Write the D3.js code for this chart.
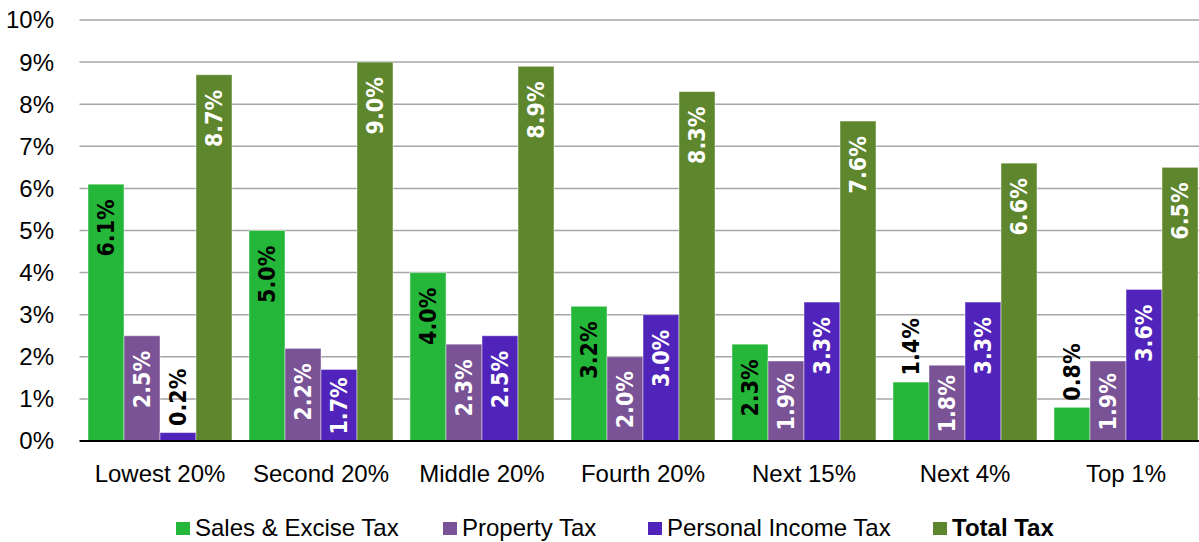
<!DOCTYPE html>
<html>
<head>
<meta charset="utf-8">
<script src="https://cdn.jsdelivr.net/npm/d3@7"></script>
<style>
  body { margin: 0; background: #fff; }
  svg { display: block; }
</style>
</head>
<body>
<div id="chart"></div>
<script>
// data
var categories = ["Lowest 20%", "Second 20%", "Middle 20%", "Fourth 20%", "Next 15%", "Next 4%", "Top 1%"];
var seriesNames = ["Sales & Excise Tax", "Property Tax", "Personal Income Tax", "Total Tax"];
var salesExcise = [6.1, 5.0, 4.0, 3.2, 2.3, 1.4, 0.8];
var propertyTax = [2.5, 2.2, 2.3, 2.0, 1.9, 1.8, 1.9];
var incomeTax = [0.2, 1.7, 2.5, 3.0, 3.3, 3.3, 3.6];
var totalTax = [8.7, 9.0, 8.9, 8.3, 7.6, 6.6, 6.5];
var yTicks = [0, 1, 2, 3, 4, 5, 6, 7, 8, 9, 10];

var seriesValues = [salesExcise, propertyTax, incomeTax, totalTax];
var colors = ["#24B739", "#7A5296", "#5023BA", "#5E862C"];
var labelColors = ["#000", "#fff", "#fff", "#fff"];

var W = 1199, H = 542;
var plotLeft = 79.5, plotRight = 1206.5, plotTop = 20, plotBottom = 441;

var svg = d3.select("#chart").append("svg")
    .attr("width", W)
    .attr("height", H);

var y = d3.scaleLinear().domain([0, 10]).range([plotBottom, plotTop]);

var x0 = d3.scaleBand()
    .domain(categories)
    .range([plotLeft, plotRight])
    .paddingInner(0)
    .paddingOuter(0);

var x1 = d3.scaleBand()
    .domain(d3.range(seriesNames.length))
    .range([8.5, x0.bandwidth() - 8.5])
    .padding(0);

// gridlines
svg.append("g")
    .selectAll("line")
    .data(yTicks.filter(function(d) { return d > 0; }))
    .enter().append("line")
    .attr("x1", plotLeft)
    .attr("x2", W)
    .attr("y1", function(d) { return y(d); })
    .attr("y2", function(d) { return y(d); })
    .attr("stroke", "#A6A6A6")
    .attr("stroke-width", 1.5);

// y tick labels
svg.append("g")
    .selectAll("text")
    .data(yTicks)
    .enter().append("text")
    .attr("x", 54)
    .attr("y", function(d) { return y(d); })
    .attr("dy", "0.35em")
    .attr("text-anchor", "end")
    .style("font-family", "'Liberation Sans', Arial, sans-serif")
    .style("font-size", "24px")
    .style("fill", "#000")
    .text(function(d) { return d + "%"; });

// bars
var rows = [];
categories.forEach(function(c, i) {
    seriesValues.forEach(function(vals, s) {
        rows.push({ cat: c, s: s, v: vals[i] });
    });
});

svg.append("g")
    .selectAll("rect")
    .data(rows)
    .enter().append("rect")
    .attr("x", function(d) { return x0(d.cat) + x1(d.s); })
    .attr("width", x1.bandwidth())
    .attr("y", function(d) { return y(d.v); })
    .attr("height", function(d) { return y(0) - y(d.v); })
    .attr("fill", function(d) { return colors[d.s]; })
    .attr("stroke", "rgba(255,255,255,0.45)")
    .attr("stroke-width", 1);

// baseline
svg.append("line")
    .attr("x1", plotLeft)
    .attr("x2", W)
    .attr("y1", y(0))
    .attr("y2", y(0))
    .attr("stroke", "#000")
    .attr("stroke-width", 2);

// value labels, rotated
var labelLen = 56;
svg.append("g")
    .selectAll("text")
    .data(rows)
    .enter().append("text")
    .style("font-family", "'DejaVu Sans Condensed', 'DejaVu Sans', sans-serif")
    .style("font-weight", "bold")
    .style("font-size", "23px")
    .attr("text-anchor", "end")
    .attr("dominant-baseline", "central")
    .text(function(d) { return d.v.toFixed(1) + "%"; })
    .each(function(d) {
        var h = y(0) - y(d.v);
        var cx = x0(d.cat) + x1(d.s) + x1.bandwidth() / 2;
        var pad = Math.min(15, (h - labelLen) / 2);
        var endY, fill;
        if (pad < 5) {
            endY = y(d.v) - 8 - labelLen;
            fill = "#000";
        } else {
            endY = y(d.v) + pad;
            fill = labelColors[d.s];
        }
        d3.select(this)
            .attr("transform", "translate(" + cx + "," + endY + ") rotate(-90)")
            .style("fill", fill);
    });

// category labels
svg.append("g")
    .selectAll("text")
    .data(categories)
    .enter().append("text")
    .attr("x", function(d) { return x0(d) + x0.bandwidth() / 2; })
    .attr("y", 482)
    .attr("text-anchor", "middle")
    .style("font-family", "'Liberation Sans', Arial, sans-serif")
    .style("font-size", "24px")
    .style("fill", "#000")
    .text(function(d) { return d; });

// legend
var legendX = [176, 443, 648, 933];
var legend = svg.append("g")
    .selectAll("g")
    .data(seriesNames)
    .enter().append("g")
    .attr("transform", function(d, i) { return "translate(" + legendX[i] + ",522)"; });

legend.append("rect")
    .attr("width", 14)
    .attr("height", 13)
    .attr("fill", function(d, i) { return colors[i]; });

legend.append("text")
    .attr("x", 19)
    .attr("y", 14)
    .style("font-family", "'Liberation Sans', Arial, sans-serif")
    .style("font-size", "24px")
    .style("font-weight", function(d, i) { return i === 3 ? "bold" : "normal"; })
    .style("fill", "#000")
    .text(function(d) { return d; });
</script>
</body>
</html>
